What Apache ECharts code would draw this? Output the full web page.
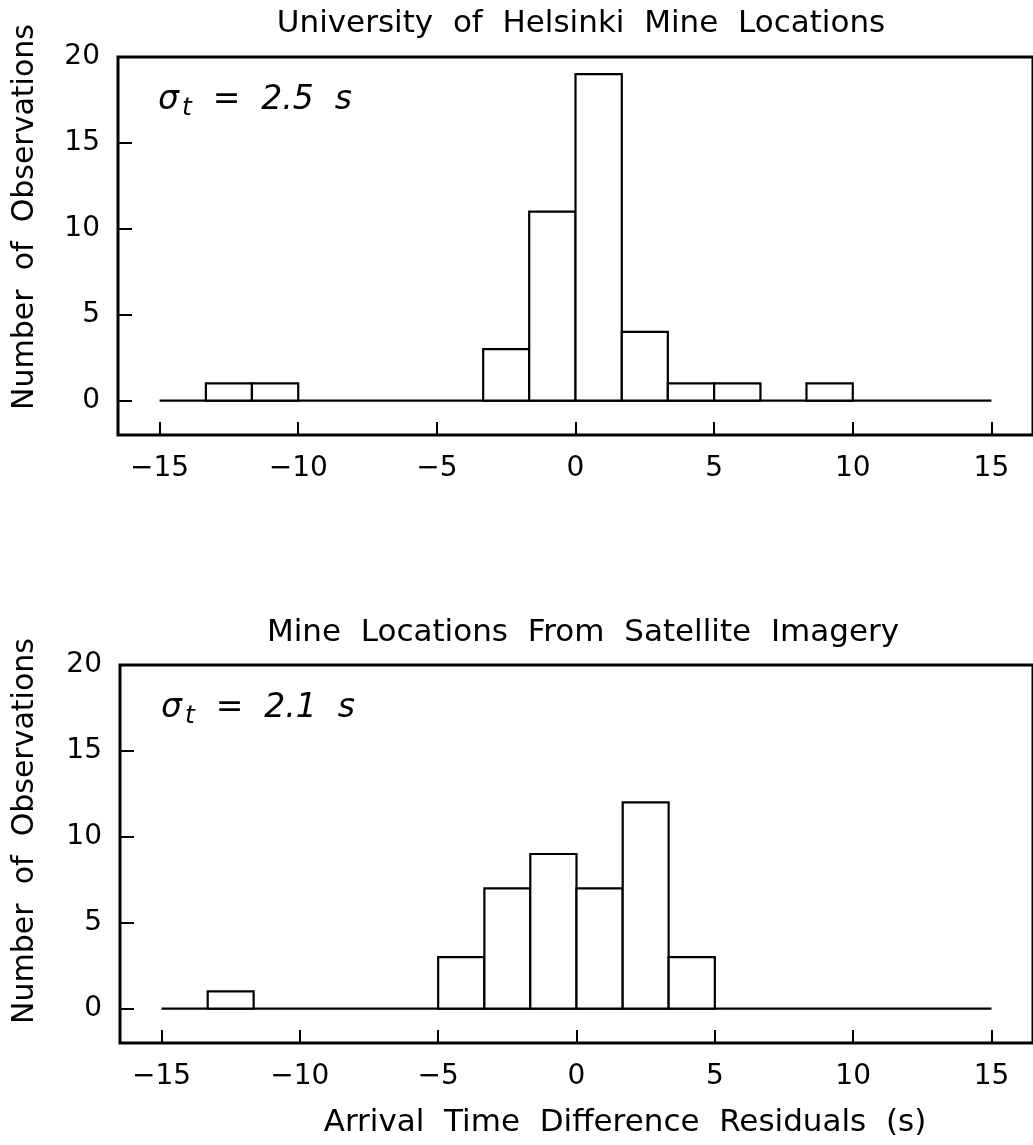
<!DOCTYPE html>
<html>
<head>
<meta charset="utf-8">
<script src="https://cdn.jsdelivr.net/npm/echarts@6/dist/echarts.min.js"></script>
<style>html,body{margin:0;padding:0;background:#fff;}#chart{width:1033px;height:1145px;}</style>
</head>
<body>
<div id="chart"></div>
<script>
// ---- data ----
const xTicks = [-15, -10, -5, 0, 5, 10, 15];
const yTicks = [0, 5, 10, 15, 20];
const baselineX = [-15, 15];

const topTitle = 'University  of  Helsinki  Mine  Locations';
const topSigma = '2.5';
const topBinStart = [-13.33, -11.67, -3.33, -1.67, 0, 1.67, 3.33, 5, 8.33];
const topBinEnd   = [-11.67, -10, -1.67, 0, 1.67, 3.33, 5, 6.67, 10];
const topCounts   = [1, 1, 3, 11, 19, 4, 1, 1, 1];

const botTitle = 'Mine  Locations  From  Satellite  Imagery';
const botSigma = '2.1';
const botBinStart = [-13.33, -5, -3.33, -1.67, 0, 1.67, 3.33];
const botBinEnd   = [-11.67, -3.33, -1.67, 0, 1.67, 3.33, 5];
const botCounts   = [1, 3, 7, 9, 7, 12, 3];

const yName = 'Number  of  Observations';
const xName = 'Arrival  Time  Difference  Residuals  (s)';

// ---- chart ----
const FONT = 'DejaVu Sans';
const chart = echarts.init(document.getElementById('chart'), null, {renderer: 'canvas'});

function rows(s, e, c) { return s.map((v, i) => [v, e[i], c[i]]); }
function renderBin(params, api) {
  const p0 = api.coord([api.value(0), 0]);
  const p1 = api.coord([api.value(1), api.value(2)]);
  return {
    type: 'rect',
    shape: {x: p0[0], y: p1[1], width: p1[0] - p0[0], height: p0[1] - p1[1]},
    style: {fill: '#fff', stroke: '#000', lineWidth: 2.2}
  };
}
function xAxisCfg(gi) {
  return {
    type: 'value', gridIndex: gi, min: -16.5, max: 16.5,
    axisLine: {show: false, onZero: false}, splitLine: {show: false},
    axisTick: {show: true, inside: true, length: 13, customValues: xTicks, lineStyle: {color: '#000', width: 2}},
    axisLabel: {customValues: xTicks, fontSize: 28, fontFamily: FONT, color: '#000', margin: 20,
      formatter: v => String(v).replace('-', '\u2212')}
  };
}
function yAxisCfg(gi) {
  return {
    type: 'value', gridIndex: gi, min: -2, max: 20,
    axisLine: {show: false, onZero: false}, splitLine: {show: false},
    axisTick: {show: true, inside: true, length: 14, customValues: yTicks, lineStyle: {color: '#000', width: 2}},
    axisLabel: {customValues: yTicks, fontSize: 28, fontFamily: FONT, color: '#000', margin: 18}
  };
}
function sigmaText(x, y, val) {
  return {
    type: 'text', x: x, y: y,
    style: {
      text: '{s|σ}{t|t}{r|  =  ' + val + '  s}',
      rich: {
        s: {fontSize: 33, fontStyle: 'italic', fontFamily: FONT, fill: '#000'},
        t: {fontSize: 25, fontStyle: 'italic', fontFamily: FONT, fill: '#000', padding: [16, 0, 0, 3]},
        r: {fontSize: 33, fontStyle: 'italic', fontFamily: FONT, fill: '#000'}
      },
      verticalAlign: 'middle'
    }
  };
}
function plainText(x, y, txt, rot, size) {
  return {
    type: 'text', x: x, y: y, rotation: rot || 0,
    style: {text: txt, fontSize: size || 29, fontFamily: FONT, fill: '#000', align: 'center', verticalAlign: 'middle'}
  };
}

chart.setOption({
  animation: false,
  backgroundColor: '#fff',
  grid: [
    {left: 118, top: 57, width: 927, height: 378, show: true, borderColor: '#000', borderWidth: 3, backgroundColor: 'transparent'},
    {left: 120, top: 665, width: 928, height: 378, show: true, borderColor: '#000', borderWidth: 3, backgroundColor: 'transparent'}
  ],
  xAxis: [xAxisCfg(0), xAxisCfg(1)],
  yAxis: [yAxisCfg(0), yAxisCfg(1)],
  series: [
    {type: 'line', xAxisIndex: 0, yAxisIndex: 0, data: baselineX.map(x => [x, 0]), symbol: 'none',
      lineStyle: {color: '#000', width: 2.2}, z: 2},
    {type: 'custom', xAxisIndex: 0, yAxisIndex: 0, renderItem: renderBin,
      encode: {x: [0, 1], y: 2}, data: rows(topBinStart, topBinEnd, topCounts), z: 3},
    {type: 'line', xAxisIndex: 1, yAxisIndex: 1, data: baselineX.map(x => [x, 0]), symbol: 'none',
      lineStyle: {color: '#000', width: 2.2}, z: 2},
    {type: 'custom', xAxisIndex: 1, yAxisIndex: 1, renderItem: renderBin,
      encode: {x: [0, 1], y: 2}, data: rows(botBinStart, botBinEnd, botCounts), z: 3}
  ],
  graphic: [
    plainText(581, 24, topTitle, 0, 31),
    plainText(583, 633, botTitle, 0, 31),
    plainText(25, 217, yName, Math.PI / 2, 30),
    plainText(25, 831, yName, Math.PI / 2, 30),
    plainText(625, 1123, xName, 0, 31),
    sigmaText(158, 100, topSigma),
    sigmaText(161, 708, botSigma)
  ]
});
</script>
</body>
</html>
